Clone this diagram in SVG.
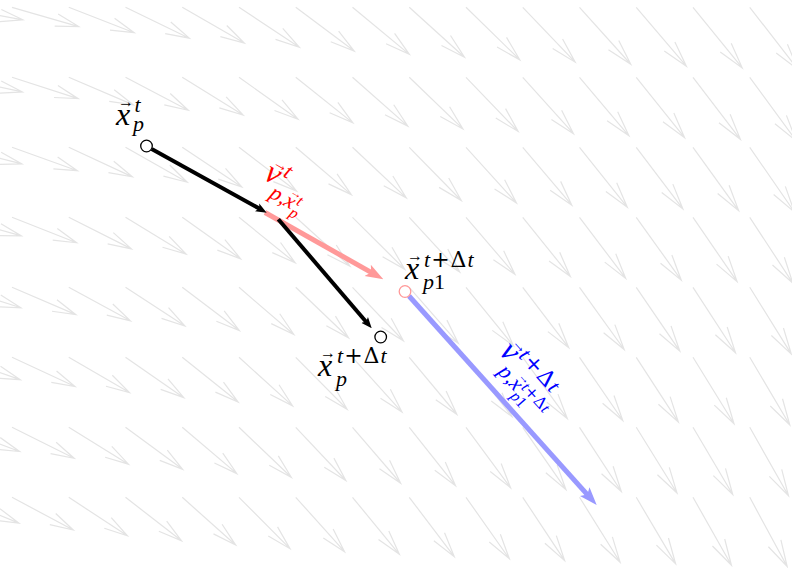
<svg xmlns="http://www.w3.org/2000/svg" width="792" height="568" viewBox="0 0 792 568">
<style>
.m{font-family:"Liberation Serif","Times New Roman",serif;font-style:italic}
.u{font-family:"DejaVu Serif","Liberation Serif",serif;font-style:normal}
.c{font-family:"Liberation Serif",serif;font-style:normal}
.fa{fill:none;stroke:#e4e4e4;stroke-width:1.2;vector-effect:non-scaling-stroke}
.pt{fill:#fff;stroke:#000;stroke-width:1.3}
</style>
<defs>
<path id="a" class="fa" d="M0,0H72M47.9,-6.5L72,0L47.9,6.5"/>
<marker id="hk" viewBox="0 -5 11 10" markerWidth="11" markerHeight="10" refX="3" refY="0" orient="auto" markerUnits="userSpaceOnUse"><path d="M0,-4.5L11,0L0,4.5L2.5,0z" fill="#000"/></marker>
<marker id="hr" viewBox="0 -7 18 14" markerWidth="18" markerHeight="14" refX="5" refY="0" orient="auto" markerUnits="userSpaceOnUse"><path d="M0,-6.5L18,0L0,6.5L4,0z" fill="#ff9999"/></marker>
<marker id="hb" viewBox="0 -7 18 14" markerWidth="18" markerHeight="14" refX="5" refY="0" orient="auto" markerUnits="userSpaceOnUse"><path d="M0,-6.5L18,0L0,6.5L4,0z" fill="#9999ff"/></marker>
</defs>
<rect width="792" height="568" fill="#fff"/>
<g id="field">
<use href="#a" transform="translate(-44.75,7.3) rotate(10.5) scale(.955)"/>
<use href="#a" transform="translate(-44.75,77.3) rotate(12.3) scale(.955)"/>
<use href="#a" transform="translate(-44.75,147.3) rotate(14) scale(.955)"/>
<use href="#a" transform="translate(-44.75,217.3) rotate(15.7) scale(.955)"/>
<use href="#a" transform="translate(-44.75,287.3) rotate(17.3) scale(.955)"/>
<use href="#a" transform="translate(-44.75,357.3) rotate(19) scale(.955)"/>
<use href="#a" transform="translate(-44.75,427.3) rotate(20.6) scale(.955)"/>
<use href="#a" transform="translate(-44.75,497.3) rotate(22.1) scale(.955)"/>
<use href="#a" transform="translate(12,7.3) rotate(16.1) scale(.965)"/>
<use href="#a" transform="translate(12,77.3) rotate(17.9) scale(.965)"/>
<use href="#a" transform="translate(12,147.3) rotate(19.7) scale(.965)"/>
<use href="#a" transform="translate(12,217.3) rotate(21.5) scale(.965)"/>
<use href="#a" transform="translate(12,287.3) rotate(23.2) scale(.965)"/>
<use href="#a" transform="translate(12,357.3) rotate(24.9) scale(.965)"/>
<use href="#a" transform="translate(12,427.3) rotate(26.5) scale(.965)"/>
<use href="#a" transform="translate(12,497.3) rotate(28.1) scale(.965)"/>
<use href="#a" transform="translate(68.75,7.3) rotate(21.2) scale(.975)"/>
<use href="#a" transform="translate(68.75,77.3) rotate(23.1) scale(.975)"/>
<use href="#a" transform="translate(68.75,147.3) rotate(24.9) scale(.975)"/>
<use href="#a" transform="translate(68.75,217.3) rotate(26.7) scale(.975)"/>
<use href="#a" transform="translate(68.75,287.3) rotate(28.5) scale(.975)"/>
<use href="#a" transform="translate(68.75,357.3) rotate(30.1) scale(.975)"/>
<use href="#a" transform="translate(68.75,427.3) rotate(31.7) scale(.975)"/>
<use href="#a" transform="translate(68.75,497.3) rotate(33.3) scale(.975)"/>
<use href="#a" transform="translate(125.5,7.3) rotate(25.8) scale(.985)"/>
<use href="#a" transform="translate(125.5,77.3) rotate(27.7) scale(.985)"/>
<use href="#a" transform="translate(125.5,147.3) rotate(29.5) scale(.985)"/>
<use href="#a" transform="translate(125.5,217.3) rotate(31.3) scale(.985)"/>
<use href="#a" transform="translate(125.5,287.3) rotate(33.1) scale(.985)"/>
<use href="#a" transform="translate(125.5,357.3) rotate(34.7) scale(.985)"/>
<use href="#a" transform="translate(125.5,427.3) rotate(36.3) scale(.985)"/>
<use href="#a" transform="translate(125.5,497.3) rotate(37.8) scale(.985)"/>
<use href="#a" transform="translate(182.25,7.3) rotate(29.9) scale(.995)"/>
<use href="#a" transform="translate(182.25,77.3) rotate(31.8) scale(.995)"/>
<use href="#a" transform="translate(182.25,147.3) rotate(33.7) scale(.995)"/>
<use href="#a" transform="translate(182.25,217.3) rotate(35.4) scale(.995)"/>
<use href="#a" transform="translate(182.25,287.3) rotate(37.1) scale(.995)"/>
<use href="#a" transform="translate(182.25,357.3) rotate(38.7) scale(.995)"/>
<use href="#a" transform="translate(182.25,427.3) rotate(40.3) scale(.995)"/>
<use href="#a" transform="translate(182.25,497.3) rotate(41.8) scale(.995)"/>
<use href="#a" transform="translate(239,7.3) rotate(33.5) scale(1.005)"/>
<use href="#a" transform="translate(239,77.3) rotate(35.4) scale(1.005)"/>
<use href="#a" transform="translate(239,147.3) rotate(37.3) scale(1.005)"/>
<use href="#a" transform="translate(239,217.3) rotate(39) scale(1.005)"/>
<use href="#a" transform="translate(239,287.3) rotate(40.7) scale(1.005)"/>
<use href="#a" transform="translate(239,357.3) rotate(42.2) scale(1.005)"/>
<use href="#a" transform="translate(239,427.3) rotate(43.7) scale(1.005)"/>
<use href="#a" transform="translate(239,497.3) rotate(45.2) scale(1.005)"/>
<use href="#a" transform="translate(295.75,7.3) rotate(36.8) scale(1.015)"/>
<use href="#a" transform="translate(295.75,77.3) rotate(38.6) scale(1.015)"/>
<use href="#a" transform="translate(295.75,147.3) rotate(40.4) scale(1.015)"/>
<use href="#a" transform="translate(295.75,217.3) rotate(42.1) scale(1.015)"/>
<use href="#a" transform="translate(295.75,287.3) rotate(43.7) scale(1.015)"/>
<use href="#a" transform="translate(295.75,357.3) rotate(45.3) scale(1.015)"/>
<use href="#a" transform="translate(295.75,427.3) rotate(46.7) scale(1.015)"/>
<use href="#a" transform="translate(295.75,497.3) rotate(48.1) scale(1.015)"/>
<use href="#a" transform="translate(352.5,7.3) rotate(39.6) scale(1.025)"/>
<use href="#a" transform="translate(352.5,77.3) rotate(41.4) scale(1.025)"/>
<use href="#a" transform="translate(352.5,147.3) rotate(43.2) scale(1.025)"/>
<use href="#a" transform="translate(352.5,217.3) rotate(44.9) scale(1.025)"/>
<use href="#a" transform="translate(352.5,287.3) rotate(46.4) scale(1.025)"/>
<use href="#a" transform="translate(352.5,357.3) rotate(47.9) scale(1.025)"/>
<use href="#a" transform="translate(352.5,427.3) rotate(49.3) scale(1.025)"/>
<use href="#a" transform="translate(352.5,497.3) rotate(50.6) scale(1.025)"/>
<use href="#a" transform="translate(409.25,7.3) rotate(42.1) scale(1.034)"/>
<use href="#a" transform="translate(409.25,77.3) rotate(43.9) scale(1.034)"/>
<use href="#a" transform="translate(409.25,147.3) rotate(45.6) scale(1.034)"/>
<use href="#a" transform="translate(409.25,217.3) rotate(47.3) scale(1.034)"/>
<use href="#a" transform="translate(409.25,287.3) rotate(48.8) scale(1.034)"/>
<use href="#a" transform="translate(409.25,357.3) rotate(50.2) scale(1.034)"/>
<use href="#a" transform="translate(409.25,427.3) rotate(51.6) scale(1.034)"/>
<use href="#a" transform="translate(409.25,497.3) rotate(52.8) scale(1.034)"/>
<use href="#a" transform="translate(466,7.3) rotate(44.3) scale(1.044)"/>
<use href="#a" transform="translate(466,77.3) rotate(46.1) scale(1.044)"/>
<use href="#a" transform="translate(466,147.3) rotate(47.8) scale(1.044)"/>
<use href="#a" transform="translate(466,217.3) rotate(49.4) scale(1.044)"/>
<use href="#a" transform="translate(466,287.3) rotate(50.9) scale(1.044)"/>
<use href="#a" transform="translate(466,357.3) rotate(52.2) scale(1.044)"/>
<use href="#a" transform="translate(466,427.3) rotate(53.6) scale(1.044)"/>
<use href="#a" transform="translate(466,497.3) rotate(54.8) scale(1.044)"/>
<use href="#a" transform="translate(522.75,7.3) rotate(46.3) scale(1.054)"/>
<use href="#a" transform="translate(522.75,77.3) rotate(48) scale(1.054)"/>
<use href="#a" transform="translate(522.75,147.3) rotate(49.7) scale(1.054)"/>
<use href="#a" transform="translate(522.75,217.3) rotate(51.2) scale(1.054)"/>
<use href="#a" transform="translate(522.75,287.3) rotate(52.7) scale(1.054)"/>
<use href="#a" transform="translate(522.75,357.3) rotate(54) scale(1.054)"/>
<use href="#a" transform="translate(522.75,427.3) rotate(55.3) scale(1.054)"/>
<use href="#a" transform="translate(522.75,497.3) rotate(56.5) scale(1.054)"/>
<use href="#a" transform="translate(579.5,7.3) rotate(48) scale(1.064)"/>
<use href="#a" transform="translate(579.5,77.3) rotate(49.8) scale(1.064)"/>
<use href="#a" transform="translate(579.5,147.3) rotate(51.4) scale(1.064)"/>
<use href="#a" transform="translate(579.5,217.3) rotate(52.9) scale(1.064)"/>
<use href="#a" transform="translate(579.5,287.3) rotate(54.3) scale(1.064)"/>
<use href="#a" transform="translate(579.5,357.3) rotate(55.6) scale(1.064)"/>
<use href="#a" transform="translate(579.5,427.3) rotate(56.9) scale(1.064)"/>
<use href="#a" transform="translate(579.5,497.3) rotate(58) scale(1.064)"/>
<use href="#a" transform="translate(636.25,7.3) rotate(49.6) scale(1.074)"/>
<use href="#a" transform="translate(636.25,77.3) rotate(51.3) scale(1.074)"/>
<use href="#a" transform="translate(636.25,147.3) rotate(52.9) scale(1.074)"/>
<use href="#a" transform="translate(636.25,217.3) rotate(54.4) scale(1.074)"/>
<use href="#a" transform="translate(636.25,287.3) rotate(55.7) scale(1.074)"/>
<use href="#a" transform="translate(636.25,357.3) rotate(57) scale(1.074)"/>
<use href="#a" transform="translate(636.25,427.3) rotate(58.2) scale(1.074)"/>
<use href="#a" transform="translate(636.25,497.3) rotate(59.4) scale(1.074)"/>
<use href="#a" transform="translate(693,7.3) rotate(50.9) scale(1.084)"/>
<use href="#a" transform="translate(693,77.3) rotate(52.6) scale(1.084)"/>
<use href="#a" transform="translate(693,147.3) rotate(54.2) scale(1.084)"/>
<use href="#a" transform="translate(693,217.3) rotate(55.6) scale(1.084)"/>
<use href="#a" transform="translate(693,287.3) rotate(57) scale(1.084)"/>
<use href="#a" transform="translate(693,357.3) rotate(58.3) scale(1.084)"/>
<use href="#a" transform="translate(693,427.3) rotate(59.4) scale(1.084)"/>
<use href="#a" transform="translate(693,497.3) rotate(60.5) scale(1.084)"/>
<use href="#a" transform="translate(749.75,7.3) rotate(52.2) scale(1.093)"/>
<use href="#a" transform="translate(749.75,77.3) rotate(53.8) scale(1.093)"/>
<use href="#a" transform="translate(749.75,147.3) rotate(55.4) scale(1.093)"/>
<use href="#a" transform="translate(749.75,217.3) rotate(56.8) scale(1.093)"/>
<use href="#a" transform="translate(749.75,287.3) rotate(58.1) scale(1.093)"/>
<use href="#a" transform="translate(749.75,357.3) rotate(59.4) scale(1.093)"/>
<use href="#a" transform="translate(749.75,427.3) rotate(60.5) scale(1.093)"/>
<use href="#a" transform="translate(749.75,497.3) rotate(61.6) scale(1.093)"/>
</g>
<g id="connectors" fill="none">
<path d="M265,212.5L372,272.9" stroke="#ff9999" stroke-width="5" marker-end="url(#hr)"/>
<path d="M409,296L588,495.3" stroke="#9999ff" stroke-width="5" marker-end="url(#hb)"/>
<path d="M151.7,148.9L259.7,208.8" stroke="#000" stroke-width="4" marker-end="url(#hk)"/>
<path d="M278.3,219.3L366.5,322.2" stroke="#000" stroke-width="4" marker-end="url(#hk)"/>
</g>
<g id="xpt">
<circle class="pt" cx="146.5" cy="146" r="5.8"/>
<text class="m" x="116" y="125" font-size="32">x</text>
<text class="c" x="118" y="107" font-size="16">→</text>
<text class="m" x="134.5" y="112" font-size="22">t</text>
<text class="m" x="133" y="131" font-size="22">p</text>
</g>
<g id="xpdt">
<circle class="pt" cx="380.7" cy="337" r="5.8"/>
<text class="m" x="318" y="376" font-size="32">x</text>
<text class="c" x="320" y="358" font-size="16">→</text>
<text class="m" x="337" y="363" font-size="22" letter-spacing="1">t<tspan class="u">+Δ</tspan>t</text>
<text class="m" x="336" y="386" font-size="22">p</text>
</g>
<g id="xp1">
<circle cx="405" cy="291.5" r="5.8" fill="#fff" stroke="#ff9999" stroke-width="1.3"/>
<text class="m" x="405" y="279" font-size="32">x</text>
<text class="c" x="407" y="261" font-size="16">→</text>
<text class="m" x="424" y="267" font-size="22" letter-spacing="1">t<tspan class="u">+Δ</tspan>t</text>
<text class="m" x="423" y="289" font-size="22">p<tspan class="c">1</tspan></text>
</g>
<g id="vred" fill="#ff0000" transform="translate(262.5,178.5) rotate(29.6)">
<text class="m" x="0" y="0" font-size="32">v</text>
<text class="c" x="1.5" y="-16" font-size="16">→</text>
<text class="m" x="16" y="-12" font-size="22">t</text>
<text class="m" x="14" y="13" font-size="22">p<tspan class="c">,</tspan>x</text>
<text class="c" x="31" y="0" font-size="12">→</text>
<text class="m" x="41.5" y="6" font-size="16">t</text>
<text class="m" x="40.5" y="19.5" font-size="16">p</text>
</g>
<g id="vblue" fill="#0000ff" transform="translate(498.2,352.6) rotate(48.3)">
<text class="m" x="0" y="0" font-size="32">v</text>
<text class="c" x="1.5" y="-16" font-size="16">→</text>
<text class="m" x="16" y="-12" font-size="22" letter-spacing="1">t<tspan class="u">+Δ</tspan>t</text>
<text class="m" x="14" y="14" font-size="22">p<tspan class="c">,</tspan>x</text>
<text class="c" x="31" y="1" font-size="12">→</text>
<text class="m" x="41.5" y="7" font-size="16">t<tspan class="u">+Δ</tspan>t</text>
<text class="m" x="40.5" y="21" font-size="16">p<tspan class="c">1</tspan></text>
</g>
</svg>
